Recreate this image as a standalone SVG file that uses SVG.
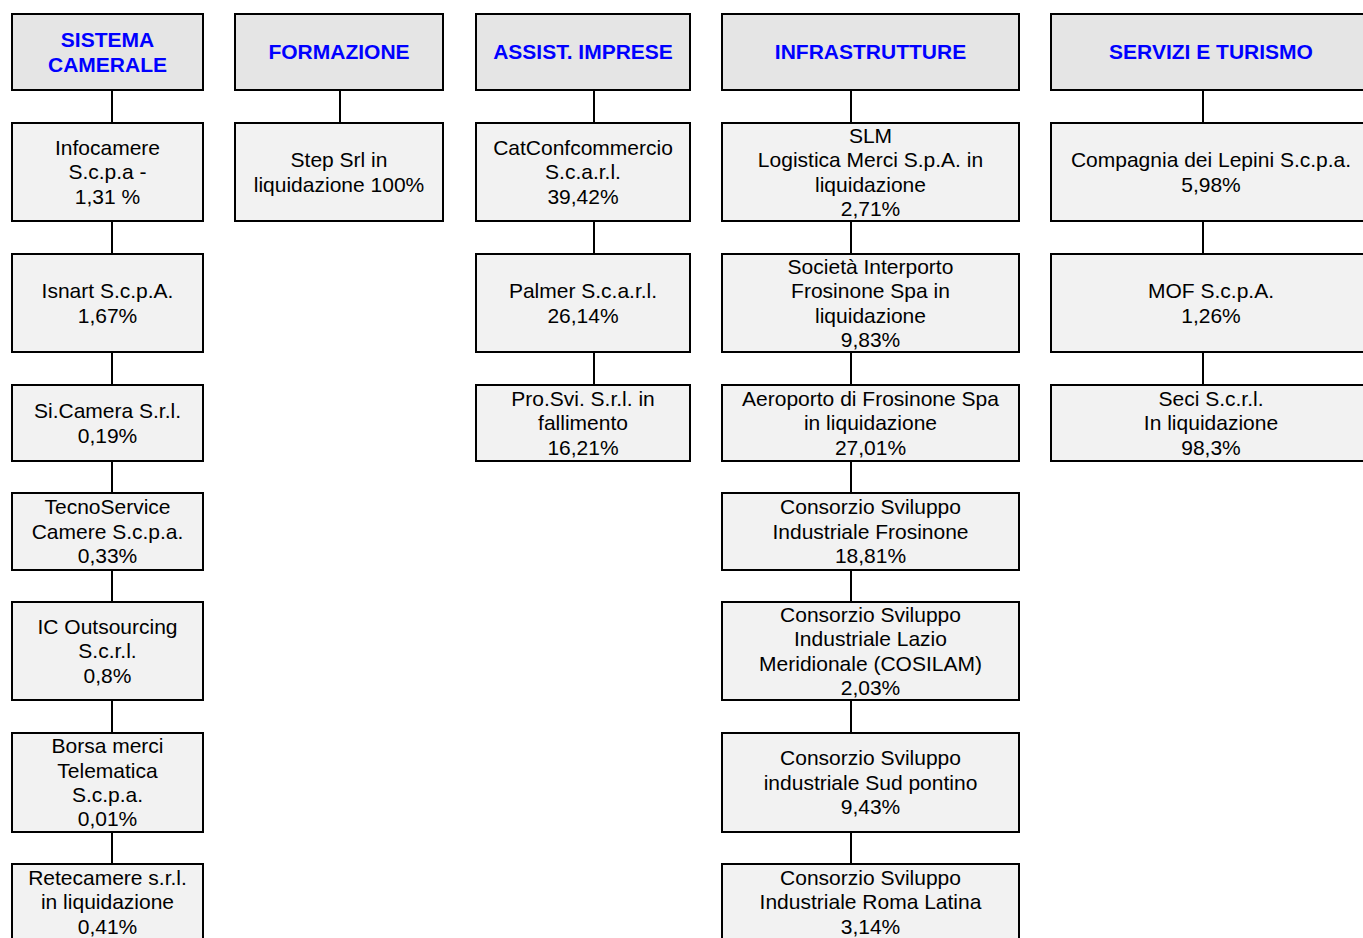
<svg xmlns="http://www.w3.org/2000/svg" width="1363" height="938" viewBox="0 0 1363 938">
<style>
  .hdr rect { fill: #e5e5e5; stroke: #000; stroke-width: 2; }
  .node rect { fill: #f2f2f2; stroke: #000; stroke-width: 2; }
  .hdr text { font-family: "Liberation Sans", Arial, sans-serif; font-size: 21px; font-weight: bold; fill: #0000ff; text-anchor: middle; }
  .node text { font-family: "Liberation Sans", Arial, sans-serif; font-size: 21px; fill: #000; text-anchor: middle; }
  #connectors line { stroke: #000; stroke-width: 2; }
</style>
<rect width="1363" height="938" fill="#fff"/>
<g id="connectors">
  <line x1="112" y1="90" x2="112" y2="123"/>
  <line x1="112" y1="221" x2="112" y2="254"/>
  <line x1="112" y1="352" x2="112" y2="385"/>
  <line x1="112" y1="461" x2="112" y2="493"/>
  <line x1="112" y1="570" x2="112" y2="602"/>
  <line x1="112" y1="700" x2="112" y2="733"/>
  <line x1="112" y1="832" x2="112" y2="864"/>
  <line x1="340" y1="90" x2="340" y2="123"/>
  <line x1="594" y1="90" x2="594" y2="123"/>
  <line x1="594" y1="221" x2="594" y2="254"/>
  <line x1="594" y1="352" x2="594" y2="385"/>
  <line x1="851" y1="90" x2="851" y2="123"/>
  <line x1="851" y1="221" x2="851" y2="254"/>
  <line x1="851" y1="352" x2="851" y2="385"/>
  <line x1="851" y1="461" x2="851" y2="493"/>
  <line x1="851" y1="570" x2="851" y2="602"/>
  <line x1="851" y1="700" x2="851" y2="733"/>
  <line x1="851" y1="832" x2="851" y2="864"/>
  <line x1="1203" y1="90" x2="1203" y2="123"/>
  <line x1="1203" y1="221" x2="1203" y2="254"/>
  <line x1="1203" y1="352" x2="1203" y2="385"/>
</g>

<!-- Headers -->
<g id="h-sistema" class="hdr"><rect x="12" y="14" width="191" height="76"/>
  <text><tspan x="107.5" y="47.1">SISTEMA</tspan><tspan x="107.5" y="71.5">CAMERALE</tspan></text></g>
<g id="h-formazione" class="hdr"><rect x="235" y="14" width="208" height="76"/>
  <text x="339" y="59.3">FORMAZIONE</text></g>
<g id="h-assist" class="hdr"><rect x="476" y="14" width="214" height="76"/>
  <text x="583" y="59.3">ASSIST. IMPRESE</text></g>
<g id="h-infra" class="hdr"><rect x="722" y="14" width="297" height="76"/>
  <text x="870.5" y="59.3">INFRASTRUTTURE</text></g>
<g id="h-servizi" class="hdr"><rect x="1051" y="14" width="320" height="76"/>
  <text x="1211" y="59.3">SERVIZI E TURISMO</text></g>

<!-- Column 1 -->
<g id="n-infocamere" class="node"><rect x="12" y="123" width="191" height="98"/>
  <text><tspan x="107.5" y="154.9">Infocamere</tspan><tspan x="107.5" y="179.3">S.c.p.a -</tspan><tspan x="107.5" y="203.7">1,31 %</tspan></text></g>
<g id="n-isnart" class="node"><rect x="12" y="254" width="191" height="98"/>
  <text><tspan x="107.5" y="298.1">Isnart S.c.p.A.</tspan><tspan x="107.5" y="322.5">1,67%</tspan></text></g>
<g id="n-sicamera" class="node"><rect x="12" y="385" width="191" height="76"/>
  <text><tspan x="107.5" y="418.1">Si.Camera S.r.l.</tspan><tspan x="107.5" y="442.5">0,19%</tspan></text></g>
<g id="n-tecnoservice" class="node"><rect x="12" y="493" width="191" height="77"/>
  <text><tspan x="107.5" y="514.4">TecnoService</tspan><tspan x="107.5" y="538.8">Camere S.c.p.a.</tspan><tspan x="107.5" y="563.2">0,33%</tspan></text></g>
<g id="n-icoutsourcing" class="node"><rect x="12" y="602" width="191" height="98"/>
  <text><tspan x="107.5" y="633.9">IC Outsourcing</tspan><tspan x="107.5" y="658.3">S.c.r.l.</tspan><tspan x="107.5" y="682.7">0,8%</tspan></text></g>
<g id="n-borsamerci" class="node"><rect x="12" y="733" width="191" height="99"/>
  <text><tspan x="107.5" y="753.2">Borsa merci</tspan><tspan x="107.5" y="777.6">Telematica</tspan><tspan x="107.5" y="802">S.c.p.a.</tspan><tspan x="107.5" y="826.4">0,01%</tspan></text></g>
<g id="n-retecamere" class="node"><rect x="12" y="864" width="191" height="76"/>
  <text><tspan x="107.5" y="884.9">Retecamere s.r.l.</tspan><tspan x="107.5" y="909.3">in liquidazione</tspan><tspan x="107.5" y="933.7">0,41%</tspan></text></g>

<!-- Column 2 -->
<g id="n-step" class="node"><rect x="235" y="123" width="208" height="98"/>
  <text><tspan x="339" y="167.1">Step Srl in</tspan><tspan x="339" y="191.5">liquidazione 100%</tspan></text></g>

<!-- Column 3 -->
<g id="n-catconf" class="node"><rect x="476" y="123" width="214" height="98"/>
  <text><tspan x="583" y="154.9">CatConfcommercio</tspan><tspan x="583" y="179.3">S.c.a.r.l.</tspan><tspan x="583" y="203.7">39,42%</tspan></text></g>
<g id="n-palmer" class="node"><rect x="476" y="254" width="214" height="98"/>
  <text><tspan x="583" y="298.1">Palmer S.c.a.r.l.</tspan><tspan x="583" y="322.5">26,14%</tspan></text></g>
<g id="n-prosvi" class="node"><rect x="476" y="385" width="214" height="76"/>
  <text><tspan x="583" y="405.9">Pro.Svi. S.r.l. in</tspan><tspan x="583" y="430.3">fallimento</tspan><tspan x="583" y="454.7">16,21%</tspan></text></g>

<!-- Column 4 -->
<g id="n-slm" class="node"><rect x="722" y="123" width="297" height="98"/>
  <text><tspan x="870.5" y="142.7">SLM</tspan><tspan x="870.5" y="167.1">Logistica Merci S.p.A. in</tspan><tspan x="870.5" y="191.5">liquidazione</tspan><tspan x="870.5" y="215.9">2,71%</tspan></text></g>
<g id="n-interporto" class="node"><rect x="722" y="254" width="297" height="98"/>
  <text><tspan x="870.5" y="273.7">Società Interporto</tspan><tspan x="870.5" y="298.1">Frosinone Spa in</tspan><tspan x="870.5" y="322.5">liquidazione</tspan><tspan x="870.5" y="346.9">9,83%</tspan></text></g>
<g id="n-aeroporto" class="node"><rect x="722" y="385" width="297" height="76"/>
  <text><tspan x="870.5" y="405.9">Aeroporto di Frosinone Spa</tspan><tspan x="870.5" y="430.3">in liquidazione</tspan><tspan x="870.5" y="454.7">27,01%</tspan></text></g>
<g id="n-csi-frosinone" class="node"><rect x="722" y="493" width="297" height="77"/>
  <text><tspan x="870.5" y="514.4">Consorzio Sviluppo</tspan><tspan x="870.5" y="538.8">Industriale Frosinone</tspan><tspan x="870.5" y="563.2">18,81%</tspan></text></g>
<g id="n-cosilam" class="node"><rect x="722" y="602" width="297" height="98"/>
  <text><tspan x="870.5" y="621.7">Consorzio Sviluppo</tspan><tspan x="870.5" y="646.1">Industriale Lazio</tspan><tspan x="870.5" y="670.5">Meridionale (COSILAM)</tspan><tspan x="870.5" y="694.9">2,03%</tspan></text></g>
<g id="n-sudpontino" class="node"><rect x="722" y="733" width="297" height="99"/>
  <text><tspan x="870.5" y="765.4">Consorzio Sviluppo</tspan><tspan x="870.5" y="789.8">industriale Sud pontino</tspan><tspan x="870.5" y="814.2">9,43%</tspan></text></g>
<g id="n-romalatina" class="node"><rect x="722" y="864" width="297" height="76"/>
  <text><tspan x="870.5" y="884.9">Consorzio Sviluppo</tspan><tspan x="870.5" y="909.3">Industriale Roma Latina</tspan><tspan x="870.5" y="933.7">3,14%</tspan></text></g>

<!-- Column 5 -->
<g id="n-lepini" class="node"><rect x="1051" y="123" width="320" height="98"/>
  <text><tspan x="1211" y="167.1">Compagnia dei Lepini S.c.p.a.</tspan><tspan x="1211" y="191.5">5,98%</tspan></text></g>
<g id="n-mof" class="node"><rect x="1051" y="254" width="320" height="98"/>
  <text><tspan x="1211" y="298.1">MOF S.c.p.A.</tspan><tspan x="1211" y="322.5">1,26%</tspan></text></g>
<g id="n-seci" class="node"><rect x="1051" y="385" width="320" height="76"/>
  <text><tspan x="1211" y="405.9">Seci S.c.r.l.</tspan><tspan x="1211" y="430.3">In liquidazione</tspan><tspan x="1211" y="454.7">98,3%</tspan></text></g>
</svg>
